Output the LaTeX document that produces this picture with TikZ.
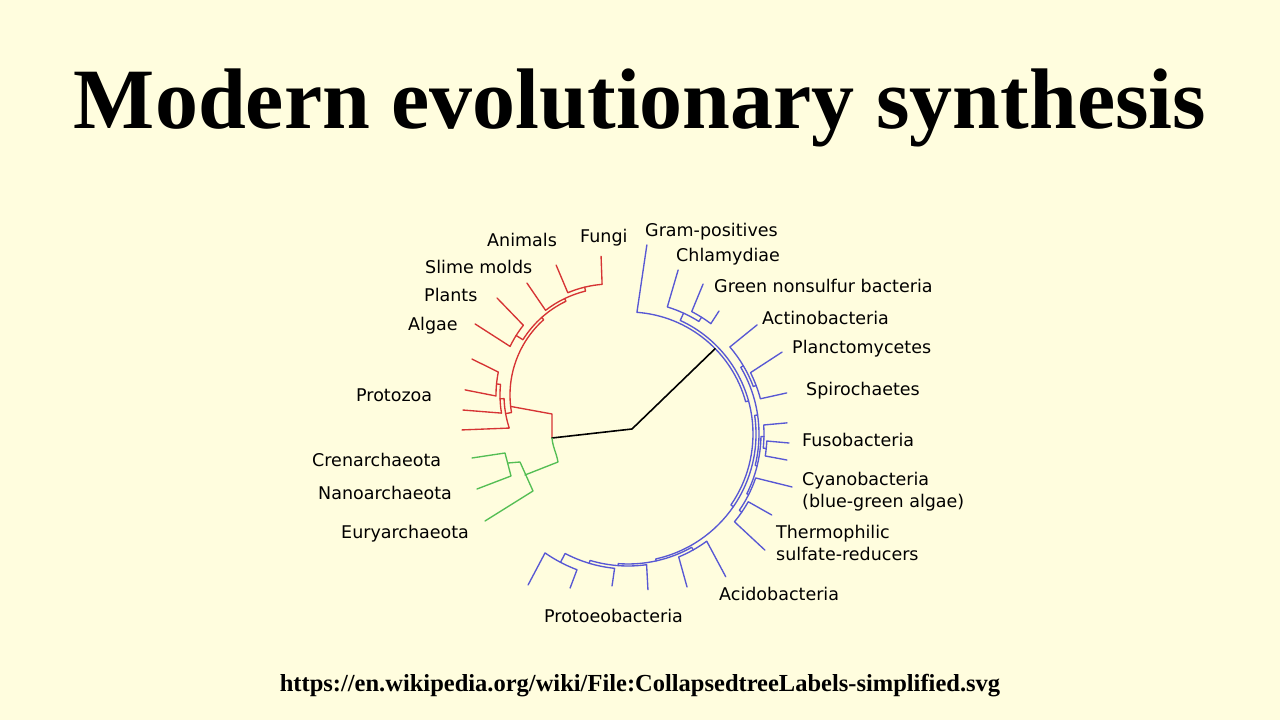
\documentclass[tikz,border=0pt]{standalone}
\usepackage{fontspec}
\setmainfont{Liberation Serif}
\newfontfamily\labelfont{DejaVu Sans}
\definecolor{paper}{RGB}{255,253,222}
\definecolor{eukred}{RGB}{214,52,52}
\definecolor{bacblue}{RGB}{88,88,212}
\definecolor{arcgreen}{RGB}{84,190,84}
\begin{document}
\begin{tikzpicture}[x=1pt,y=1pt,
    lbl/.style={anchor=base west,inner sep=0pt,align=left,
      font={\labelfont\fontsize{17.5}{22}\selectfont}},
    branch/.style={line width=1.35pt,line cap=round,line join=round}]
  \fill[paper] (0,0) rectangle (1280,720);
  \useasboundingbox (0,0) rectangle (1280,720);

  \node[anchor=base,inner sep=0pt,font={\bfseries\fontsize{86}{90}\selectfont}] (title) at (640,591) {Modern evolutionary synthesis};
  \node[anchor=base,inner sep=0pt,font={\bfseries\fontsize{24.5}{28}\selectfont}] (source) at (640,28) {https://en.wikipedia.org/wiki/File:CollapsedtreeLabels-simplified.svg};

  \begin{scope}[shift={(628,286)},branch,bacblue]
    \coordinate (bacroot) at (44.4:122);
    \draw (84.3:190) -- (85.8:122) arc[start angle=85.8,end angle=15.35,radius=122] -- (15.35:125);
    \draw (65.3:133) -- (65.3:125) arc[start angle=65.3,end angle=-34.6,radius=125] -- (-34.6:128);
    \draw (73:171.5) -- (72.8:133) arc[start angle=72.8,end angle=57.8,radius=133] -- (57.8:138);
    \draw (63.4:167.7) -- (62.5:138) arc[start angle=62.5,end angle=53.1,radius=138] -- (53.5:153);
    \draw (8.35:131) -- (8.35:128) arc[start angle=8.35,end angle=-77.5,radius=128] -- (-77.5:130);
    \draw (30.6:134) -- (30.6:131) arc[start angle=30.6,end angle=-13.9,radius=131] -- (-13.9:133);
    \draw (40.2:169) -- (40.5:134) arc[start angle=40.5,end angle=20.75,radius=134] -- (20.75:137);
    \draw (28:174.5) -- (26.6:137) arc[start angle=26.6,end angle=14.9,radius=137] -- (14.5:164);
    \draw (-1.1:136) -- (-1.1:133) arc[start angle=-1.1,end angle=-26.7,radius=133] -- (-26.7:135);
    \draw (4:159.4) -- (3.8:136) arc[start angle=3.8,end angle=-6,radius=136] -- (-6:139);
    \draw (-3.2:161.3) -- (-2.9:139) arc[start angle=-2.9,end angle=-9.1,radius=139] -- (-9.3:161);
    \draw (-17.9:172.4) -- (-19:135) arc[start angle=-19,end angle=-34.45,radius=135] -- (-34.45:138);
    \draw (-29.4:165) -- (-29.4:138) arc[start angle=-29.4,end angle=-39.5,radius=138] -- (-40.3:179.5);
    \draw (-60.65:133) -- (-60.65:130) arc[start angle=-60.65,end angle=-94.3,radius=130] -- (-94.3:132);
    \draw (-55.6:173) -- (-53.7:133) arc[start angle=-53.7,end angle=-67.6,radius=133] -- (-68.9:164);
    \draw (-82.7:157) -- (-81.9:132) arc[start angle=-81.9,end angle=-106.7,radius=132] -- (-106.7:135);
    \draw (-96:152.8) -- (-95.7:135) arc[start angle=-95.7,end angle=-117.75,radius=135] -- (-117.75:145);
    \draw (-110.6:164.6) -- (-110.6:145) arc[start angle=-110.6,end angle=-124.9,radius=145] -- (-123.5:181);
  \end{scope}

  \begin{scope}[shift={(611,325)},branch,eukred]
    \coordinate (eukroot) at (186.5:101);
    \draw (94.1:139) -- (94.6:111) arc[start angle=94.6,end angle=112.9,radius=111] -- (112.9:141);
    \draw (103.75:111) -- (103.75:107) arc[start angle=103.75,end angle=127.7,radius=107] -- (126.9:140);
    \draw (139.6:149.7) -- (141.5:112) arc[start angle=141.5,end angle=154.3,radius=112] -- (152.4:153.4);
    \draw (115.7:107) -- (115.7:104) arc[start angle=115.7,end angle=147.9,radius=104] -- (147.9:112);
    \draw (165.5:143.6) -- (168.5:115) arc[start angle=168.5,end angle=180.5,radius=115] -- (178:146);
    \draw (174.5:115) -- (174.5:111) arc[start angle=174.5,end angle=189.4,radius=111] -- (185.8:148.8);
    \draw (181.95:111) -- (181.95:107) arc[start angle=181.95,end angle=198,radius=107] -- (193.2:153);
    \draw (131.8:104) -- (131.8:101) arc[start angle=131.8,end angle=190,radius=101] -- (190:107);
  \end{scope}

  \coordinate (arcjoin) at (552,282);
  \coordinate (liferoot) at (632,291);
  \coordinate (eukbend) at (552,306);
  \draw[branch,eukred] (eukroot) -- (eukbend) -- (arcjoin);
  \draw[branch,line width=1.6pt] (arcjoin) -- (liferoot) -- (bacroot);

  \begin{scope}[branch,arcgreen]
    \draw (arcjoin) to[out=-85,in=100] (558,258) -- (525,245);
    \draw (485,199) -- (533,229) -- (520,258) -- (508,257);
    \draw (472,262) -- (505,267) -- (511,244) -- (477,231);
  \end{scope}

  \node[lbl] (fungi) at (580,477) {Fungi};
  \node[lbl] (animals) at (487,473) {Animals};
  \node[lbl] (slime) at (425,446) {Slime molds};
  \node[lbl] (plants) at (424,418) {Plants};
  \node[lbl] (algae) at (408,389) {Algae};
  \node[lbl] (protozoa) at (356,318) {Protozoa};
  \node[lbl] (cren) at (312,253) {Crenarchaeota};
  \node[lbl] (nano) at (318,220) {Nanoarchaeota};
  \node[lbl] (eury) at (341,181) {Euryarchaeota};
  \node[lbl] (grampos) at (645,483) {Gram-positives};
  \node[lbl] (chlam) at (676,458) {Chlamydiae};
  \node[lbl] (greenns) at (714,427) {Green nonsulfur bacteria};
  \node[lbl] (actino) at (762,395) {Actinobacteria};
  \node[lbl] (plancto) at (792,366) {Planctomycetes};
  \node[lbl] (spiro) at (806,324) {Spirochaetes};
  \node[lbl] (fuso) at (802,273) {Fusobacteria};
  \node[lbl] (cyano) at (802,212) {Cyanobacteria\\(blue-green algae)};
  \node[lbl] (thermo) at (776,159) {Thermophilic\\sulfate-reducers};
  \node[lbl] (acido) at (719,119) {Acidobacteria};
  \node[lbl] (proteo) at (544,97) {Protoeobacteria};
\end{tikzpicture}
\end{document}
